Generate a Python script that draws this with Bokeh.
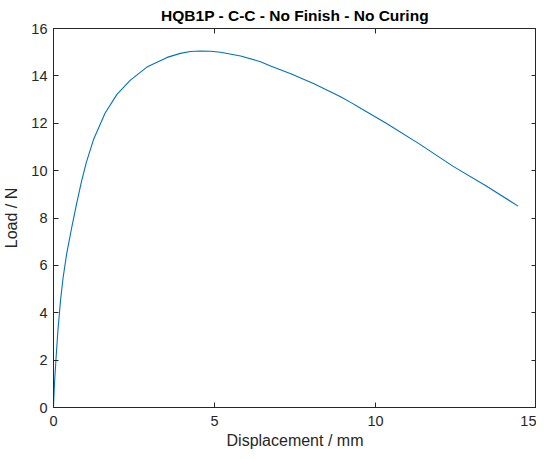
from bokeh.plotting import figure
from bokeh.models import LinearAxis, Range1d, FixedTicker
from bokeh.embed import file_html
from bokeh.resources import INLINE

title_text = "HQB1P - C-C - No Finish - No Curing"
x_label = "Displacement / mm"
y_label = "Load / N"

displacement = [0.0, 0.01, 0.03, 0.08, 0.14, 0.22, 0.30, 0.41, 0.57, 0.72, 0.87, 1.02,
                1.24, 1.60, 1.97, 2.38, 2.90, 3.53, 3.94, 4.25, 4.56, 4.88, 5.19,
                5.81, 6.43, 6.74, 7.37, 8.09, 8.93, 9.27, 9.55, 10.32, 11.36, 12.4,
                13.44, 14.43]
load = [0.0, 0.4, 1.0, 2.1, 3.3, 4.55, 5.5, 6.5, 7.63, 8.62, 9.55, 10.35,
        11.3, 12.42, 13.22, 13.81, 14.37, 14.78, 14.95, 15.03, 15.05, 15.04, 15.0,
        14.84, 14.6, 14.42, 14.09, 13.67, 13.11, 12.85, 12.62, 12.01, 11.13, 10.19,
        9.35, 8.5]

x_ticks = [0, 5, 10, 15]
y_ticks = [0, 2, 4, 6, 8, 10, 12, 14, 16]

FONT = "Liberation Sans"
TXT = "#262626"

p = figure(width=536, height=451, output_backend="svg", toolbar_location=None,
           x_range=Range1d(0, 15), y_range=Range1d(0, 16),
           min_border_left=46, min_border_right=0, min_border_top=0, min_border_bottom=0)

p.title.text = title_text
p.title.align = "center"
p.title.text_font = FONT
p.title.text_font_size = "15.5px"
p.title.text_font_style = "bold"
p.title.text_color = "#000000"
p.title.offset = 0
p.title.standoff = 9

p.line(displacement, load, line_color="#0072BD", line_width=1.1)

p.grid.visible = False
p.outline_line_color = TXT
p.outline_line_width = 1

for ax, ticks in ((p.xaxis[0], x_ticks), (p.yaxis[0], y_ticks)):
    ax.ticker = FixedTicker(ticks=ticks)
    ax.major_tick_in = 5
    ax.major_tick_out = 0
    ax.minor_tick_line_color = None
    ax.axis_line_color = TXT
    ax.major_tick_line_color = TXT
    ax.major_label_text_font = FONT
    ax.major_label_text_font_size = "14.5px"
    ax.major_label_text_color = TXT
    ax.axis_label_text_font = FONT
    ax.axis_label_text_font_size = "16px"
    ax.axis_label_text_font_style = "normal"
    ax.axis_label_text_color = TXT

p.xaxis[0].axis_label = x_label
p.yaxis[0].axis_label = y_label
p.xaxis[0].major_label_standoff = 8
p.yaxis[0].major_label_standoff = 6
p.xaxis[0].axis_label_standoff = 3
p.yaxis[0].axis_label_standoff = 8

top = LinearAxis(ticker=FixedTicker(ticks=x_ticks), major_label_text_font_size="0px",
                 major_tick_in=5, major_tick_out=0, minor_tick_line_color=None,
                 major_label_standoff=0,
                 axis_line_color=TXT, major_tick_line_color=TXT)
right = LinearAxis(ticker=FixedTicker(ticks=y_ticks), major_label_text_font_size="0px",
                   major_tick_in=5, major_tick_out=0, minor_tick_line_color=None,
                   major_label_standoff=0,
                   axis_line_color=TXT, major_tick_line_color=TXT)
top.major_label_text_color = None
right.major_label_text_color = None
p.add_layout(top, "above")
p.add_layout(right, "right")

open("out.html", "w").write(file_html(p, INLINE))
